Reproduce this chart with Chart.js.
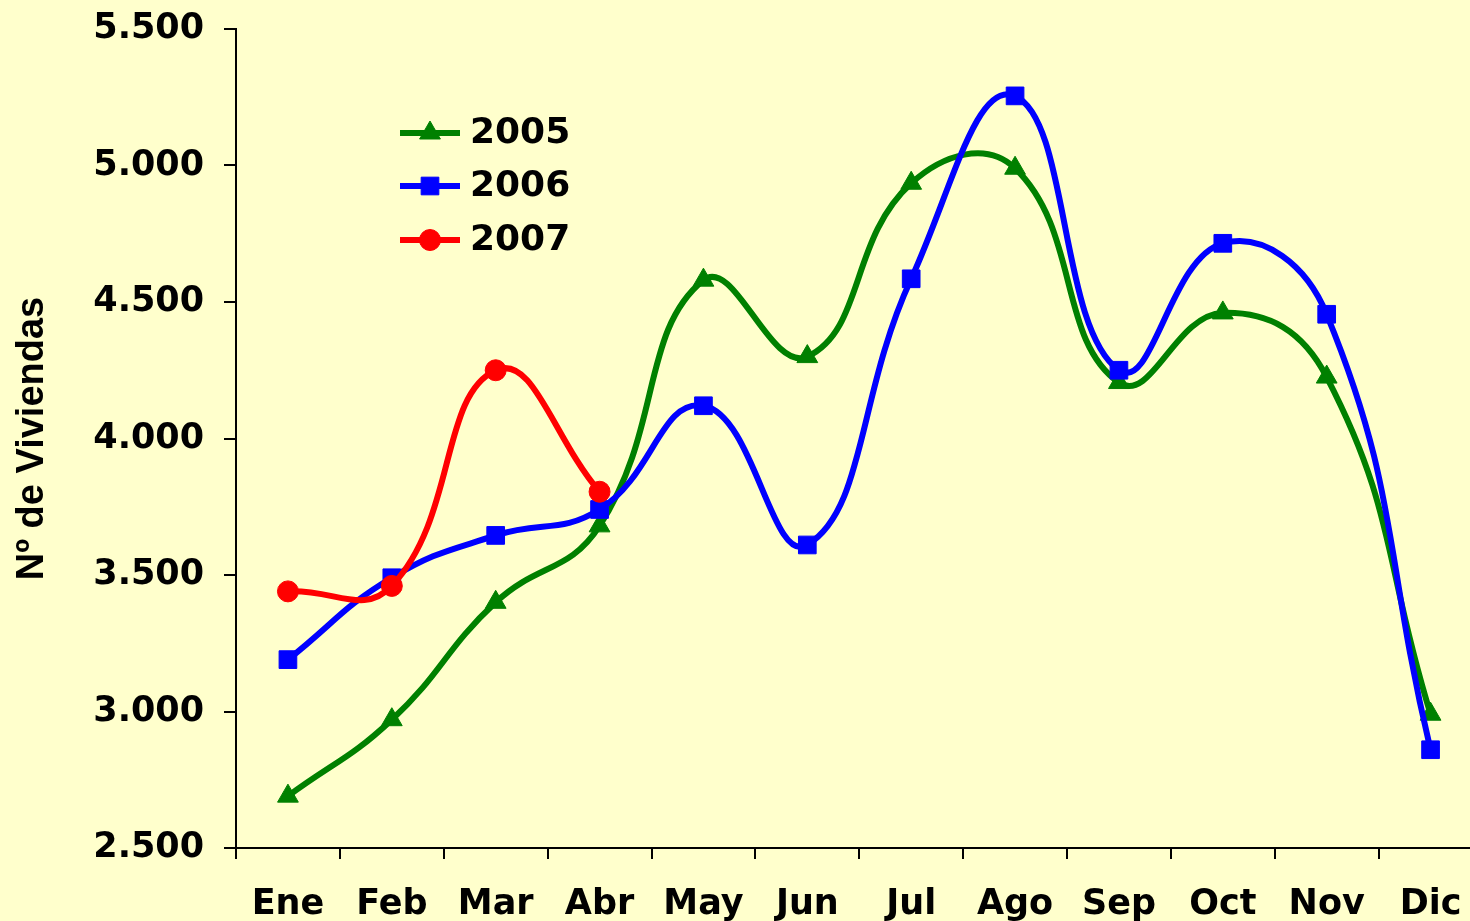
<!DOCTYPE html>
<html>
<head>
<meta charset="utf-8">
<script src="https://cdn.jsdelivr.net/npm/chart.js@4/dist/chart.umd.min.js"></script>
<style>
  html, body { margin: 0; padding: 0; background: #FFFFCC; overflow: hidden; width: 1470px; height: 921px; }
  #clip { position: relative; width: 1470px; height: 921px; overflow: hidden; }
  #wrap { position: absolute; left: 0; top: 0; width: 1496px; height: 921px; }
  canvas { display: block; }
</style>
</head>
<body>
<div id="clip"><div id="wrap"><canvas id="c" width="1496" height="921"></canvas></div></div>
<script>
const months = ['Ene','Feb','Mar','Abr','May','Jun','Jul','Ago','Sep','Oct','Nov','Dic'];
const v2005 = [2690, 2970, 3400, 3680, 4580, 4300, 4935, 4990, 4205, 4460, 4225, 2990];
const v2006 = [3190, 3490, 3645, 3740, 4120, 3610, 4585, 5255, 4250, 4715, 4455, 2860];
const v2007 = [3440, 3460, 4250, 3805];
const seriesNames = ['2005', '2006', '2007'];
const yMin = 2500, yMax = 5500, yStep = 500;
const yTitle = 'Nº de Viviendas';

const FONT = 'Verdana, "DejaVu Sans", sans-serif';

function fmt(v) {
  return String(v).replace(/\B(?=(\d{3})+(?!\d))/g, '.');
}

const legendPlugin = {
  id: 'xlLegend',
  afterDraw(chart) {
    const ctx = chart.ctx;
    const x0 = 400, x1 = 460, tx = 470;
    const ys = [133, 186, 240];
    chart.data.datasets.forEach((ds, i) => {
      const y = ys[i];
      ctx.save();
      ctx.strokeStyle = ds.borderColor;
      ctx.lineWidth = ds.borderWidth;
      ctx.beginPath();
      ctx.moveTo(x0, y);
      ctx.lineTo(x1, y);
      ctx.stroke();
      ctx.fillStyle = ds.pointBackgroundColor;
      ctx.strokeStyle = ds.pointBorderColor;
      ctx.lineWidth = ds.pointBorderWidth;
      Chart.helpers.drawPoint(ctx, {pointStyle: ds.pointStyle, rotation: 0, radius: ds.pointRadius, borderWidth: ds.pointBorderWidth}, (x0 + x1) / 2, y);
      ctx.fillStyle = '#000';
      ctx.font = 'bold 36px ' + FONT;
      ctx.textBaseline = 'middle';
      ctx.textAlign = 'left';
      ctx.fillText(ds.label, tx, y + 1);
      ctx.restore();
    });
  }
};

new Chart(document.getElementById('c'), {
  type: 'line',
  data: {
    labels: months,
    datasets: [
      { label: seriesNames[0], data: v2005, borderColor: '#008000', backgroundColor: '#008000',
        pointBackgroundColor: '#008000', pointBorderColor: '#008000', pointBorderWidth: 1,
        pointStyle: 'triangle', pointRadius: 12, borderWidth: 6, tension: 0.45, order: 3 },
      { label: seriesNames[1], data: v2006, borderColor: '#0000FF', backgroundColor: '#0000FF',
        pointBackgroundColor: '#0000FF', pointBorderColor: '#0000FF', pointBorderWidth: 1,
        pointStyle: 'rect', pointRadius: 12.5, borderWidth: 6, tension: 0.45, order: 2 },
      { label: seriesNames[2], data: v2007, borderColor: '#FF0000', backgroundColor: '#FF0000',
        pointBackgroundColor: '#FF0000', pointBorderColor: '#FF0000', pointBorderWidth: 1,
        pointStyle: 'circle', pointRadius: 10.5, borderWidth: 6, tension: 0.45, order: 1 }
    ]
  },
  options: {
    responsive: false,
    maintainAspectRatio: false,
    devicePixelRatio: 1,
    animation: false,
    events: [],
    layout: { padding: { top: 29, right: 0, bottom: 0, left: 0 } },
    plugins: { legend: { display: false }, tooltip: { enabled: false } },
    scales: {
      x: {
        type: 'category',
        offset: true,
        grid: { offset: true, drawOnChartArea: false, drawTicks: true, tickLength: 11, color: '#000', lineWidth: 2 },
        border: { display: true, color: '#000', width: 2 },
        ticks: { color: '#000', font: { family: FONT, size: 35, weight: 'bold' }, padding: 25, maxRotation: 0, autoSkip: false },
        afterFit(scale) { scale.height = 73; scale.paddingLeft = 0; scale.paddingRight = 0; }
      },
      y: {
        min: yMin, max: yMax,
        grid: { drawOnChartArea: false, drawTicks: true, tickLength: 12, color: '#000', lineWidth: 2 },
        border: { display: true, color: '#000', width: 2 },
        ticks: { stepSize: yStep, color: '#000', font: { family: FONT, size: 35, weight: 'bold' }, padding: 20,
                 callback: (v) => fmt(v) },
        title: { display: true, text: yTitle, color: '#000',
                 font: { family: '"Liberation Sans", Arial, sans-serif', size: 38, weight: 'bold' },
                 padding: { top: 10, bottom: 0 } },
        afterFit(scale) { scale.width = 236; scale.paddingTop = 0; scale.paddingBottom = 0; }
      }
    }
  },
  plugins: [legendPlugin]
});
</script>
</body>
</html>
